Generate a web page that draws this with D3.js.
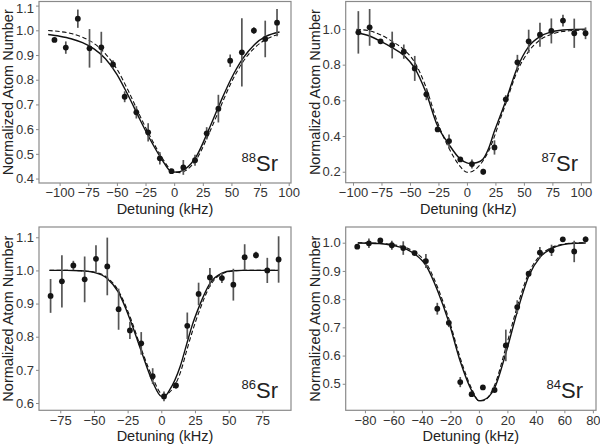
<!DOCTYPE html>
<html><head><meta charset="utf-8">
<script src="https://cdn.jsdelivr.net/npm/d3@7"></script>
<style>
body{margin:0;background:#fff}
svg{display:block}
text{font-family:"Liberation Sans",Arial,Helvetica,sans-serif}
</style>
</head><body>
<svg id="chart" width="600" height="444"></svg>
<script>
// ---------- 88Sr ----------
const sr88Det = [-104.5,-94.6,-84.1,-73.9,-63.6,-53.4,-43.2,-33.0,-22.7,-12.5,-2.3,8.0,18.2,28.4,38.6,48.9,59.1,69.6,79.5,89.8];
const sr88Val = [0.961,0.930,1.047,0.927,0.931,0.862,0.731,0.668,0.587,0.482,0.430,0.445,0.474,0.583,0.683,0.877,0.911,0.999,0.965,1.031];
const sr88Err = [0.004,0.025,0.037,0.078,0.063,0.017,0.022,0.025,0.037,0.025,0.008,0.030,0.022,0.025,0.056,0.025,0.138,0.013,0.074,0.055];
const sr88FitX = [-110,-100,-90,-80,-70,-60,-50,-40,-30,-20,-10,-4,0,5,10,20,30,40,50,60,70,80,92];
const sr88Solid = [0.983,0.976,0.966,0.950,0.925,0.885,0.822,0.735,0.640,0.550,0.472,0.433,0.426,0.428,0.440,0.495,0.596,0.705,0.806,0.886,0.942,0.975,0.993];
const sr88Dash  = [0.999,0.995,0.987,0.972,0.947,0.905,0.843,0.755,0.655,0.562,0.480,0.440,0.428,0.424,0.432,0.482,0.578,0.685,0.790,0.872,0.928,0.963,0.985];
const sr88XTicks = [-100,-75,-50,-25,0,25,50,75,100];
const sr88YTicks = [0.4,0.5,0.6,0.7,0.8,0.9,1.0,1.1];

// ---------- 87Sr ----------
const sr87Det = [-95.3,-85.4,-75.8,-65.6,-55.4,-45.8,-35.6,-25.7,-15.7,-5.8,4.4,14.3,24.2,34.1,44.3,54.2,64.1,74.1,84.3,94.2,104.1];
const sr87Val = [0.981,1.009,0.931,0.910,0.873,0.779,0.634,0.437,0.372,0.269,0.243,0.200,0.336,0.606,0.813,0.931,0.968,0.989,1.047,0.976,0.976];
const sr87Err = [0.119,0.103,0.010,0.075,0.040,0.070,0.033,0.010,0.037,0.008,0.025,0.016,0.040,0.023,0.042,0.065,0.067,0.070,0.033,0.082,0.033];
const sr87FitX = [-97,-86,-76,-66,-55,-46,-36,-26,-16,-6,0,3,9,14,19,24,29,34,44,54,64,74,84,94,104];
const sr87Solid = [0.979,0.962,0.932,0.897,0.850,0.782,0.645,0.460,0.355,0.272,0.250,0.247,0.252,0.270,0.330,0.425,0.510,0.595,0.780,0.900,0.957,0.984,0.994,0.998,0.999];
const sr87Dash  = [0.998,0.990,0.968,0.932,0.882,0.815,0.675,0.480,0.335,0.230,0.197,0.198,0.222,0.260,0.315,0.395,0.490,0.580,0.760,0.873,0.938,0.970,0.986,0.992,0.995];
const sr87XTicks = [-100,-75,-50,-25,0,25,50,75,100];
const sr87YTicks = [0.2,0.4,0.6,0.8,1.0];

// ---------- 86Sr ----------
const sr86Det = [-82.2,-73.8,-65.3,-56.9,-48.5,-40.1,-31.7,-23.3,-14.9,-6.4,2.0,10.9,19.3,27.7,36.1,45.0,53.5,61.9,70.3,78.7,87.1];
const sr86Val = [0.923,0.967,1.015,0.973,1.035,1.012,0.883,0.819,0.780,0.681,0.620,0.653,0.833,0.929,0.979,0.977,0.957,1.040,1.046,1.000,1.033];
const sr86Err = [0.051,0.079,0.014,0.069,0.041,0.087,0.062,0.026,0.034,0.024,0.015,0.010,0.040,0.034,0.028,0.015,0.048,0.039,0.010,0.038,0.070];
const sr86FitX = [-83,-70,-60,-50,-40,-32,-23,-15,-6,0,2,6,14,19,23,28,36,45,53,60,75,87];
const sr86Solid = [1.000,1.000,0.999,0.994,0.975,0.935,0.850,0.758,0.660,0.620,0.619,0.638,0.710,0.780,0.835,0.890,0.960,0.992,0.999,1.000,1.000,1.000];
const sr86Dash  = [1.000,1.000,0.999,0.995,0.978,0.940,0.858,0.765,0.672,0.628,0.625,0.632,0.690,0.760,0.815,0.875,0.952,0.990,0.998,1.000,1.000,1.000];
const sr86XTicks = [-75,-50,-25,0,25,50,75];
const sr86YTicks = [0.6,0.7,0.8,0.9,1.0,1.1];

// ---------- 84Sr ----------
const sr84Det = [-85.4,-77.2,-69.2,-61.1,-53.1,-45.1,-37.2,-29.2,-21.1,-13.1,-5.1,2.8,11.0,18.9,26.9,34.9,42.8,51.0,58.9,66.9,74.9];
const sr84Val = [0.986,0.998,1.008,0.991,0.981,0.963,0.935,0.766,0.716,0.506,0.463,0.487,0.478,0.636,0.772,0.890,0.965,0.973,1.012,0.969,1.012];
const sr84Err = [0.006,0.017,0.006,0.016,0.024,0.008,0.025,0.021,0.015,0.018,0.005,0.004,0.006,0.056,0.024,0.006,0.020,0.020,0.005,0.038,0.010];
const sr84FitX = [-85,-70,-60,-50,-45,-37,-29,-21,-13,-5,0,3,11,19,27,35,43,51,59,67,75];
const sr84Solid = [0.999,0.997,0.990,0.975,0.960,0.918,0.830,0.717,0.578,0.475,0.440,0.442,0.485,0.610,0.757,0.882,0.949,0.979,0.993,0.998,0.999];
const sr84Dash  = [1.000,0.998,0.993,0.980,0.967,0.928,0.842,0.728,0.590,0.482,0.440,0.440,0.495,0.630,0.775,0.893,0.955,0.983,0.995,0.999,1.000];
const sr84XTicks = [-80,-60,-40,-20,0,20,40,60,80];
const sr84YTicks = [0.5,0.6,0.7,0.8,0.9,1.0];

// ---------- layout ----------
const panels = [
  {mass:"88", det:sr88Det, val:sr88Val, err:sr88Err, fitX:sr88FitX, solid:sr88Solid, dash:sr88Dash, xt:sr88XTicks, yt:sr88YTicks,
   box:[39,1.5,291,183], xd:[-118,102], yd:[0.382,1.1166]},
  {mass:"87", det:sr87Det, val:sr87Val, err:sr87Err, fitX:sr87FitX, solid:sr87Solid, dash:sr87Dash, xt:sr87XTicks, yt:sr87YTicks,
   box:[345.7,1.5,591,182.7], xd:[-106.4,108.9], yd:[0.1385,1.154]},
  {mass:"86", det:sr86Det, val:sr86Val, err:sr86Err, fitX:sr86FitX, solid:sr86Solid, dash:sr86Dash, xt:sr86XTicks, yt:sr86YTicks,
   box:[39,227,291,410.3], xd:[-90.8,96.3], yd:[0.578,1.131]},
  {mass:"84", det:sr84Det, val:sr84Val, err:sr84Err, fitX:sr84FitX, solid:sr84Solid, dash:sr84Dash, xt:sr84XTicks, yt:sr84YTicks,
   box:[345.7,227,596,410.3], xd:[-93.5,82.2], yd:[0.406,1.0557]}
];

const svg = d3.select("#chart");
const frameCol = "#8a8a8a";
const tickTextCol = "#333";

panels.forEach(p => {
  const [x0,y0,x1,y1] = p.box;
  const x = d3.scaleLinear().domain(p.xd).range([x0,x1]);
  const y = d3.scaleLinear().domain(p.yd).range([y1,y0]);
  const g = svg.append("g");

  // axes
  const xa = g.append("g").attr("transform",`translate(0,${y1})`)
    .call(d3.axisBottom(x).tickValues(p.xt).tickSize(3).tickPadding(2).tickFormat(d3.format("d")));
  const ya = g.append("g").attr("transform",`translate(${x0},0)`)
    .call(d3.axisLeft(y).tickValues(p.yt).tickSize(3).tickPadding(2).tickFormat(d3.format(".1f")));
  [xa,ya].forEach(a => {
    a.select(".domain").remove();
    a.selectAll("line").attr("stroke",frameCol);
    a.selectAll("text").attr("fill",tickTextCol).style("font-size","13px");
  });
  // keep the topmost tick label inside the picture
  ya.selectAll("text").each(function(){
    const bb = this.getBoundingClientRect();
    if (bb.top < 0.5) d3.select(this).attr("y", -bb.top + 0.5);
  });

  // frame
  g.append("rect").attr("x",x0).attr("y",y0).attr("width",x1-x0).attr("height",y1-y0)
    .attr("fill","none").attr("stroke",frameCol).attr("stroke-width",1.2);

  // titles
  g.append("text").attr("x",(x0+x1)/2).attr("y",y1+31).attr("text-anchor","middle")
    .attr("fill","#222").style("font-size","14.5px").text("Detuning (kHz)");
  g.append("text").attr("transform",`translate(${x0-26},${(y0+y1)/2}) rotate(-90)`)
    .attr("text-anchor","middle").attr("fill","#222").style("font-size","14.5px").text("Normalized Atom Number");

  // fits
  const fitPts = k => p.fitX.map((d,i) => [d, p[k][i]]);
  const line = d3.line().x(d => x(d[0])).y(d => y(d[1])).curve(d3.curveMonotoneX);
  g.append("path").attr("d",line(fitPts("dash"))).attr("fill","none")
    .attr("stroke","#111").attr("stroke-width",1.1).attr("stroke-dasharray","4.5,2.5");
  g.append("path").attr("d",line(fitPts("solid"))).attr("fill","none")
    .attr("stroke","#111").attr("stroke-width",1.4);

  // error bars
  g.selectAll(".eb").data(p.det).enter().append("line")
    .attr("x1",(d)=>x(d)).attr("x2",(d)=>x(d))
    .attr("y1",(d,i)=>y(p.val[i]-p.err[i])).attr("y2",(d,i)=>y(p.val[i]+p.err[i]))
    .attr("stroke","#555").attr("stroke-width",1.7);
  // points
  g.selectAll(".pt").data(p.det).enter().append("circle")
    .attr("cx",(d)=>x(d)).attr("cy",(d,i)=>y(p.val[i])).attr("r",2.9).attr("fill","#151515");

  // isotope label
  const lab = g.append("text").attr("x",x1-13).attr("y",y1-12).attr("text-anchor","end").attr("fill","#222");
  lab.append("tspan").style("font-size","13px").attr("dy",-9).text(p.mass);
  lab.append("tspan").style("font-size","22px").attr("dy",9).text("Sr");
});
</script>
</body></html>
